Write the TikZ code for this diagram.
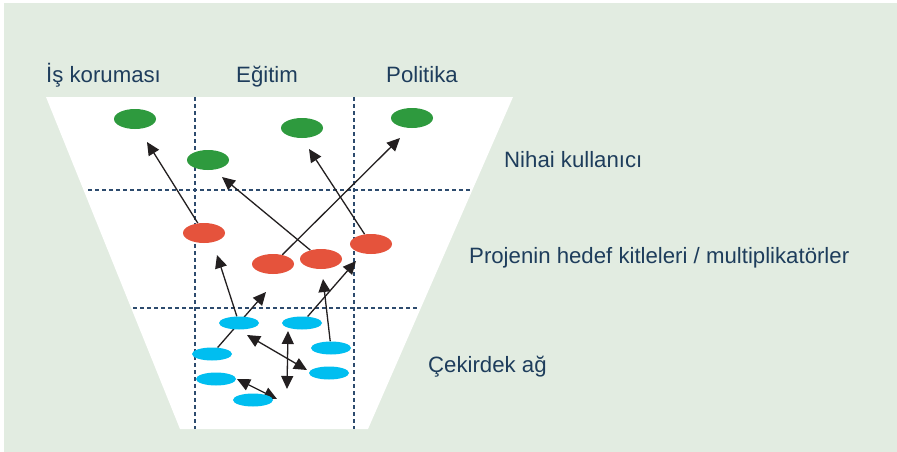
\documentclass[tikz,border=0pt]{standalone}
\usepackage{fontspec}
\setmainfont{Liberation Sans}
\usetikzlibrary{arrows.meta,shapes.geometric}
\definecolor{bggreen}{HTML}{E2ECE1}
\definecolor{txt}{HTML}{1E3D5C}
\definecolor{dashc}{HTML}{2D4B6E}
\definecolor{gfill}{HTML}{2E9A3E}
\definecolor{rfill}{HTML}{E5533C}
\definecolor{cfill}{HTML}{00BEF0}
\definecolor{arrc}{HTML}{231F20}
\pgfdeclarelayer{bg}
\pgfdeclarelayer{arr}
\pgfsetlayers{bg,arr,main}
\tikzset{
  gnode/.style={ellipse,fill=gfill,minimum width=42pt,minimum height=20pt,inner sep=0pt},
  rnode/.style={ellipse,fill=rfill,minimum width=42pt,minimum height=20pt,inner sep=0pt},
  cnode/.style={ellipse,fill=cfill,minimum width=40pt,minimum height=13pt,inner sep=0pt},
  lbl/.style={anchor=base west,text=txt,font=\fontsize{22.2}{26}\selectfont,inner sep=0pt},
  dline/.style={draw=dashc,line width=1.2pt,dash pattern=on 4pt off 3pt},
  arrow/.style={draw=arrc,line width=1.3pt,-{Triangle[length=13pt,width=12pt]}},
  darrow/.style={draw=arrc,line width=1.3pt,{Triangle[length=13pt,width=12pt]}-{Triangle[length=13pt,width=12pt]}}
}
\begin{document}
\begin{tikzpicture}[x=1pt,y=-1pt]
\useasboundingbox (0,0) rectangle (897,452);
\begin{pgfonlayer}{bg}
\fill[white] (0,0) rectangle (897,452);
\fill[bggreen] (4,3) rectangle (897,452);
\fill[white] (46,97) -- (513,97) -- (368,429) -- (180,429) -- cycle;
\draw[dline] (195,97) -- (195,429);
\draw[dline] (354,97) -- (354,429);
\draw[dline] (88,190) -- (470,190);
\draw[dline] (133,308) -- (418,308);
\end{pgfonlayer}

% labels
\node[lbl] (h1) at (46,83) {İş koruması};
\node[lbl] (h2) at (236,83) {Eğitim};
\node[lbl] (h3) at (386,83) {Politika};
\node[lbl] (l1) at (504,167) {Nihai kullanıcı};
\node[lbl] (l2) at (469,263) {Projenin hedef kitleleri / multiplikatörler};
\node[lbl] (l3) at (428,372) {Çekirdek ağ};

% green
\node[gnode] (G1) at (135,119) {};
\node[gnode] (G2) at (208,160) {};
\node[gnode] (G3) at (302,128) {};
\node[gnode] (G4) at (412,118) {};
% red
\node[rnode] (R1) at (204,233) {};
\node[rnode] (R2) at (273,264) {};
\node[rnode] (R3) at (321,259) {};
\node[rnode] (R4) at (371,244) {};
% cyan
\node[cnode] (C1) at (239,323) {};
\node[cnode] (C2) at (302,323) {};
\node[cnode] (C3) at (212,354) {};
\node[cnode] (C4) at (331,348) {};
\node[cnode] (C5) at (216,379) {};
\node[cnode] (C6) at (329,373) {};
\node[cnode] (C7) at (253,400) {};

% arrow tips
\coordinate (t1) at (147,142);
\coordinate (t2) at (222,177);
\coordinate (t3) at (400,138);
\coordinate (t4) at (309,149);
\coordinate (t5) at (266,292);
\coordinate (t6) at (217,255);
\coordinate (t7) at (356,261);
\coordinate (t8) at (323,279);
\coordinate (d9a) at (247,335);
\coordinate (d9b) at (307,370);
\coordinate (d10a) at (288,331);
\coordinate (d10b) at (287,389);
\coordinate (d11a) at (237,379);
\coordinate (d11b) at (277,399);

\begin{pgfonlayer}{arr}
\draw[arrow] (R1) -- (t1);
\draw[arrow] (R3) -- (t2);
\draw[arrow] (R2) -- (t3);
\draw[arrow] (R4) -- (t4);
\draw[arrow] (C3) -- (t5);
\draw[arrow] (C1) -- (t6);
\draw[arrow] (C2) -- (t7);
\draw[arrow] (C4) -- (t8);
\draw[darrow] (d9a) -- (d9b);
\draw[darrow] (d10a) -- (d10b);
\draw[darrow] (d11a) -- (d11b);
\end{pgfonlayer}
\end{tikzpicture}
\end{document}
